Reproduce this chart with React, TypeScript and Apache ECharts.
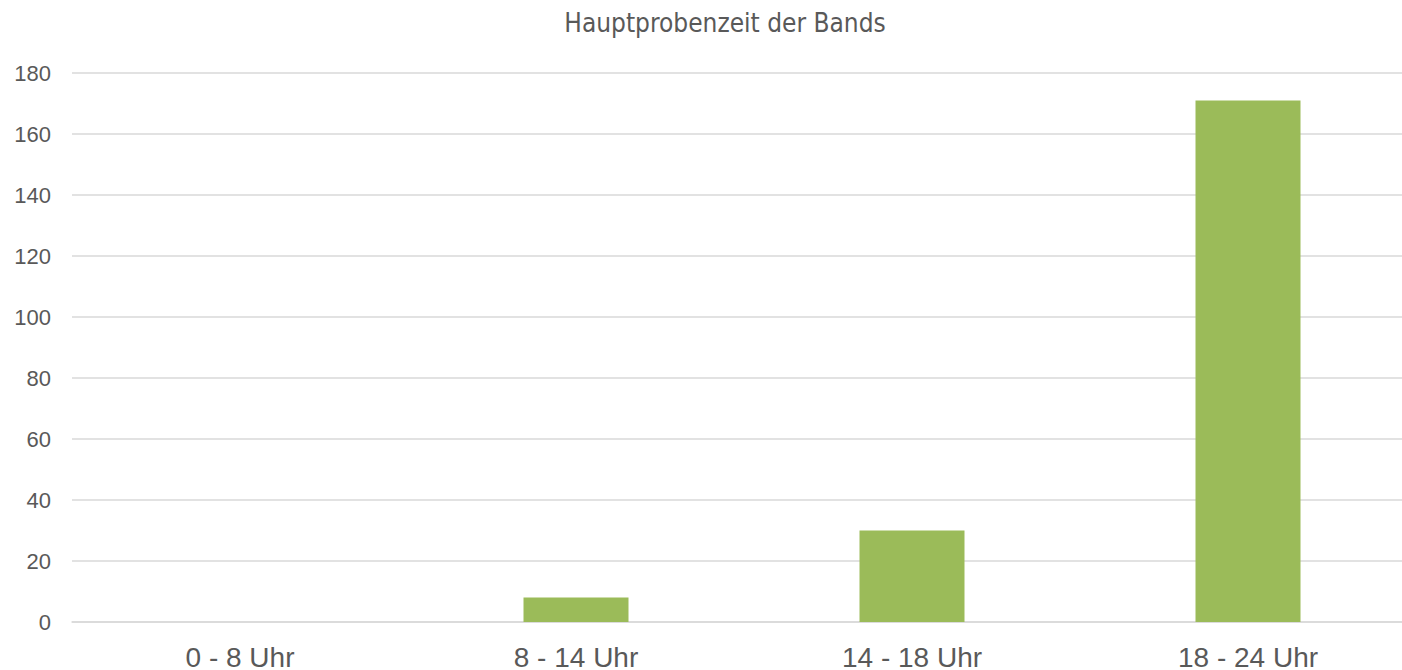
import React, { useEffect, useRef } from "react";
import * as echarts from "echarts";

const categories = ["0 - 8 Uhr", "8 - 14 Uhr", "14 - 18 Uhr", "18 - 24 Uhr"];
const values = [0, 8, 30, 171];
const titleText = "Hauptprobenzeit der Bands";

export default function App() {
  const ref = useRef<HTMLDivElement>(null);
  useEffect(() => {
    if (!ref.current) return;
    const chart = echarts.init(ref.current, null, { renderer: "svg" });
    chart.setOption({
      animation: false,
      backgroundColor: "#ffffff",
      title: {
        text: titleText,
        left: 720,
        top: 5,
        textAlign: "center",
        textStyle: {
          fontFamily: "'DejaVu Sans Condensed', 'Liberation Sans Narrow', sans-serif",
          fontSize: 26,
          fontWeight: "normal",
          color: "#595959",
        },
      },
      grid: {
        left: 72,
        width: 1344,
        top: 73,
        bottom: 48,
        containLabel: false,
        outerBoundsMode: "none",
      },
      xAxis: {
        type: "category",
        data: categories,
        axisLine: { show: true, lineStyle: { color: "#D9D9D9", width: 1.5 } },
        axisTick: { show: false },
        axisLabel: {
          color: "#595959",
          fontSize: 28,
          fontFamily: "'Liberation Sans', Arial, sans-serif",
          margin: 21,
        },
      },
      yAxis: {
        type: "value",
        min: 0,
        max: 180,
        interval: 20,
        axisLine: { show: false },
        axisTick: { show: false },
        axisLabel: {
          color: "#595959",
          fontSize: 22,
          fontFamily: "'Liberation Sans', Arial, sans-serif",
          margin: 21,
        },
        splitLine: { lineStyle: { color: "#D9D9D9", width: 1.5 } },
      },
      series: [
        {
          type: "bar",
          data: values,
          barWidth: 105,
          itemStyle: { color: "#9BBB59" },
        },
      ],
    });
    return () => chart.dispose();
  }, []);
  return (
    <div
      ref={ref}
      style={{ position: "fixed", left: 0, top: 0, width: 1402, height: 670 }}
    />
  );
}
